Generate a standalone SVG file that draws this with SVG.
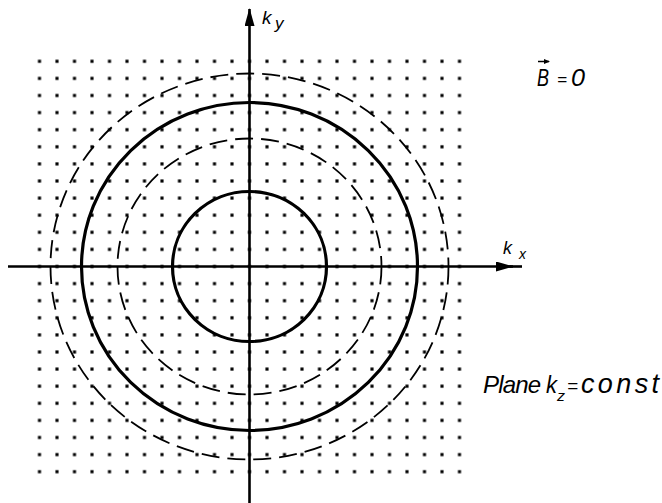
<svg xmlns="http://www.w3.org/2000/svg" width="662" height="503" viewBox="0 0 662 503">
  <style>
    .solid { fill: none; stroke: #000; stroke-width: 3.2; }
    .dash { fill: none; stroke: #000; stroke-width: 1.8; stroke-dasharray: 18 8; }
    .axis { fill: none; stroke: #000; stroke-width: 2.6; }
    .lbl { font-family: "Liberation Sans", Arial, sans-serif; font-style: italic; fill: #000; }
  </style>
  <defs>
    <pattern id="dots" patternUnits="userSpaceOnUse" x="30.75" y="52.75" width="17.5" height="17.1">
      <rect x="7.2" y="7.0" width="3.1" height="3.1" fill="#000"/>
    </pattern>
    <marker id="arr" markerUnits="userSpaceOnUse" markerWidth="18" markerHeight="10" refX="17" refY="5" orient="auto">
      <path d="M0,0 L18,5 L0,10 z" fill="#000"/>
    </marker>
    <marker id="arrSmall" markerUnits="userSpaceOnUse" markerWidth="6" markerHeight="5" refX="5" refY="2.5" orient="auto">
      <path d="M0,0 L6,2.5 L0,5 z" fill="#000"/>
    </marker>
  </defs>
  <rect width="662" height="503" fill="#fff"/>

  <g id="grid">
    <rect x="30.75" y="52.75" width="437.5" height="427.5" fill="url(#dots)"/>
  </g>

  <g id="curves">
    <ellipse id="dashed-outer" class="dash" cx="249.5" cy="266.5" rx="199" ry="193"/>
    <ellipse id="solid-outer" class="solid" cx="249.5" cy="266.5" rx="168" ry="164"/>
    <ellipse id="dashed-inner" class="dash" cx="249.5" cy="266.5" rx="132" ry="128"/>
    <ellipse id="solid-inner" class="solid" cx="249.5" cy="266.5" rx="77" ry="75"/>
  </g>

  <g id="connectors">
    <line id="ky-axis" class="axis" x1="249.5" y1="503" x2="249.5" y2="9" marker-end="url(#arr)"/>
    <line id="kx-axis" class="axis" x1="8" y1="266.5" x2="513" y2="266.5" marker-end="url(#arr)"/>
    <line class="axis" x1="510" y1="266.5" x2="522" y2="266.5"/>
  </g>

  <g id="labels">
    <g id="label-ky">
      <text class="lbl" x="262" y="24" font-size="19">k</text>
      <text class="lbl" x="275" y="29" font-size="17">y</text>
    </g>
    <g id="label-kx">
      <text class="lbl" x="503" y="254" font-size="18">k</text>
      <text class="lbl" x="519" y="259" font-size="14">x</text>
    </g>
    <g id="label-B">
      <line x1="538" y1="61.5" x2="549" y2="61.5" stroke="#000" stroke-width="1.5" marker-end="url(#arrSmall)"/>
      <text class="lbl" x="537" y="85.5" font-size="23" textLength="12" lengthAdjust="spacingAndGlyphs">B</text>
      <text class="lbl" x="557" y="85" font-size="16" textLength="10" lengthAdjust="spacingAndGlyphs">=</text>
      <text class="lbl" x="571" y="85.5" font-size="23" textLength="14" lengthAdjust="spacingAndGlyphs">0</text>
    </g>
    <g id="label-plane">
      <text class="lbl" x="483" y="393" font-size="24" textLength="58" lengthAdjust="spacing">Plane</text>
      <text class="lbl" x="546" y="393" font-size="24" textLength="11" lengthAdjust="spacingAndGlyphs">k</text>
      <text class="lbl" x="557" y="401" font-size="15" textLength="8" lengthAdjust="spacingAndGlyphs">z</text>
      <text class="lbl" x="567" y="392" font-size="18" textLength="11" lengthAdjust="spacingAndGlyphs">=</text>
      <text class="lbl" x="581" y="393" font-size="27" textLength="78" lengthAdjust="spacing">const</text>
    </g>
  </g>
</svg>
